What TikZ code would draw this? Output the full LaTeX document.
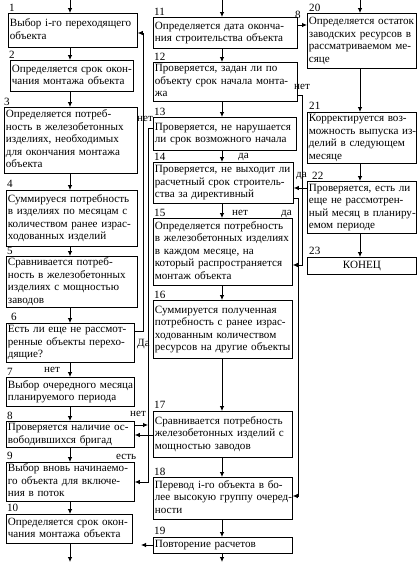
\documentclass[tikz,border=0pt]{standalone}
\usepackage{fontspec}
\setmainfont{Liberation Serif}
\usetikzlibrary{arrows.meta}
\newcommand\lns[1]{\noindent\begin{tabular}{@{}l@{}}#1\end{tabular}}
\begin{document}
\begin{tikzpicture}[x=1pt,y=-1pt,
  every node/.style={font={\fontsize{11.1}{12.5}\selectfont}},
  box/.style={draw, line width=0.8pt, anchor=north west, inner xsep=1.5pt, inner ysep=0.5pt, align=left},
  cbox/.style={draw, line width=0.8pt, anchor=north west, inner sep=0pt, align=center},
  lab/.style={inner sep=0pt, anchor=base west},
  arr/.style={line width=0.8pt, -{Latex[length=5pt,width=4.5pt]}}]
\useasboundingbox[fill=white] (0,0) rectangle (418,563);

% ---------- left column ----------
\node[box, minimum width=129pt, minimum height=34pt, text width=126pt] (b1) at (8,13) {\lns{Выбор i-го переходящего\\объекта}};
\node[box, minimum width=123pt, minimum height=31pt, text width=120pt] (b2) at (10,60) {\lns{Определяется срок окон-\\чания монтажа объекта}};
\node[box, minimum width=133pt, minimum height=66pt, text width=130pt] (b3) at (4,107) {\lns{Определяется потреб-\\ность в железобетонных\\изделиях, необходимых\\для окончания монтажа\\объекта}};
\node[box, minimum width=131pt, minimum height=56pt, text width=128pt] (b4) at (6,190) {\lns{Суммируеся потребность\\в изделиях по месяцам с\\количеством ранее израс-\\ходованных изделий}};
\node[box, minimum width=131pt, minimum height=51pt, text width=128pt] (b5) at (6,256) {\lns{Сравнивается потреб-\\ность в железобетонных\\изделиях с мощностью\\заводов}};
\node[box, minimum width=128pt, minimum height=38pt, text width=125pt] (b6) at (6,323) {\lns{Есть ли еще не рассмот-\\ренные объекты перехо-\\дящие?}};
\node[box, minimum width=128pt, minimum height=29pt, text width=125pt] (b7) at (6,377) {\lns{Выбор очередного месяца\\планируемого периода}};
\node[box, minimum width=128pt, minimum height=26pt, text width=125pt] (b8) at (6,421) {\lns{Проверяется наличие ос-\\вободившихся бригад}};
\node[box, minimum width=128pt, minimum height=38pt, text width=125pt] (b9) at (6,462) {\lns{Выбор вновь начинаемо-\\го объекта для включе-\\ния в поток}};
\node[box, minimum width=126pt, minimum height=29pt, text width=123pt] (b10) at (6,514) {\lns{Определяется срок окон-\\чания монтажа объекта}};

% ---------- middle column ----------
\node[box, minimum width=144pt, minimum height=31pt, text width=141pt] (b11) at (153,17) {\lns{Определяется дата оконча-\\ния строительства объекта}};
\node[box, minimum width=144pt, minimum height=39pt, text width=141pt] (b12) at (153,62) {\lns{Проверяется, задан ли по\\объекту срок начала монта-\\жа}};
\node[box, minimum width=143pt, minimum height=33pt, text width=140pt] (b13) at (153,117) {\lns{Проверяется, не нарушается\\ли срок возможного начала}};
\node[box, minimum width=140pt, minimum height=41pt, text width=137pt] (b14) at (153,162) {\lns{Проверяется, не выходит ли\\расчетный срок строитель-\\ства за директивный}};
\node[box, minimum width=139pt, minimum height=67pt, text width=136pt] (b15) at (153,218) {\lns{Определяется потребность\\в железобетонных изделиях\\в каждом месяце, на\\который распространяется\\монтаж объекта}};
\node[box, minimum width=139pt, minimum height=58pt, text width=136pt] (b16) at (153,300) {\lns{Суммируется полученная\\потребность с ранее израс-\\ходованным количеством\\ресурсов на другие объекты}};
\node[box, minimum width=139pt, minimum height=46pt, text width=136pt] (b17) at (153,411) {\lns{Сравнивается потребность\\железобетонных изделий с\\мощностью заводов}};
\node[box, minimum width=139pt, minimum height=42pt, text width=136pt] (b18) at (153,477) {\lns{Перевод i-го объекта в бо-\\лее высокую группу очеред-\\ности}};
\node[box, minimum width=139pt, minimum height=16pt, text width=136pt] (b19) at (153,537) {\lns{Повторение расчетов}};

% ---------- right column ----------
\node[box, minimum width=109pt, minimum height=55pt, text width=106pt] (b20) at (307,13) {\lns{Определяется остаток\\заводских ресурсов в\\рассматриваемом ме-\\сяце}};
\node[box, minimum width=109pt, minimum height=51pt, text width=106pt] (b21) at (307,112) {\lns{Корректируется воз-\\можность выпуска из-\\делий в следующем\\месяце}};
\node[box, minimum width=109pt, minimum height=52pt, text width=106pt] (b22) at (307,181) {\lns{Проверяется, есть ли\\еще не рассмотрен-\\ный месяц в планиру-\\емом периоде}};
\node[cbox, minimum width=109pt, minimum height=17pt] (b23) at (307,257) {КОНЕЦ};

% ---------- number labels ----------
\node[lab] (n1) at (9,11) {1};
\node[lab] (n2) at (9,58) {2};
\node[lab] (n3) at (4,105) {3};
\node[lab] (n4) at (7,187) {4};
\node[lab] (n5) at (7,254) {5};
\node[lab] (n6) at (11,320) {6};
\node[lab] (n7) at (7,375) {7};
\node[lab] (n8) at (7,419) {8};
\node[lab] (n9) at (7,459) {9};
\node[lab] (n10) at (7,511) {10};
\node[lab] (n11) at (154,15) {11};
\node[lab] (n12) at (154,60) {12};
\node[lab] (n13) at (154,115) {13};
\node[lab] (n14) at (154,160) {14};
\node[lab] (n15) at (154,216) {15};
\node[lab] (n16) at (154,298) {16};
\node[lab] (n17) at (154,408) {17};
\node[lab] (n18) at (154,475) {18};
\node[lab] (n19) at (154,534) {19};
\node[lab] (n20) at (309,11) {20};
\node[lab] (n21) at (309,109) {21};
\node[lab] (n22) at (312,179) {22};
\node[lab] (n23) at (309,254) {23};
\node[lab] (n8r) at (295,18) {8};

% ---------- connector labels ----------
\node[lab] (t6) at (137,346) {Да};
\node[lab] (t67) at (44,372) {нет};
\node[lab] (t8) at (130,416) {нет};
\node[lab] (t89) at (116,459) {есть};
\node[lab] (t13) at (137,121) {нет};
\node[lab] (t12) at (294,89) {нет};
\node[lab] (t1314) at (238,158) {да};
\node[lab] (t1415) at (232,215) {нет};
\node[lab] (t14) at (281,215) {да};
\node[lab] (t22) at (296,177) {да};

% ---------- coordinates ----------
\coordinate (inL) at (70,0);
\coordinate (outL) at (70,562);
\coordinate (inM) at (222,0);
\coordinate (outM) at (222,562);
\coordinate (inR) at (360,0);
\coordinate (j8) at (148,425);
\coordinate (e19) at (141,545);
\coordinate (s20) at (298,25);

% ---------- left column arrows ----------
\draw[arr] (inL) -- (b1.north -| inL);
\draw[arr] (b1.south -| inL) -- (b2.north -| inL);
\draw[arr] (b2.south -| inL) -- (b3.north -| inL);
\draw[arr] (b3.south -| inL) -- (b4.north -| inL);
\draw[arr] (b4.south -| inL) -- (b5.north -| inL);
\draw[arr] (b5.south -| inL) -- (b6.north -| inL);
\draw[arr] (b6.south -| inL) -- (b7.north -| inL);
\draw[arr] (b7.south -| inL) -- (b8.north -| inL);
\draw[arr] (b8.south -| inL) -- (b9.north -| inL);
\draw[arr] (b9.south -| inL) -- (b10.north -| inL);
\draw[arr] (b10.south -| inL) -- (outL);

% ---------- middle column arrows ----------
\draw[arr] (inM) -- (b11.north -| inM);
\draw[arr] (b11.south -| inM) -- (b12.north -| inM);
\draw[arr] (b12.south -| inM) -- (b13.north -| inM);
\draw[arr] (b13.south -| inM) -- (b14.north -| inM);
\draw[arr] (b14.south -| inM) -- (b15.north -| inM);
\draw[arr] (b15.south -| inM) -- (b16.north -| inM);
\draw[arr] (b16.south -| inM) -- (b17.north -| inM);
\draw[arr] (b17.south -| inM) -- (b18.north -| inM);
\draw[arr] (b18.south -| inM) -- (b19.north -| inM);
\draw[arr] (b19.south -| inM) -- (outM);

% ---------- right column arrows ----------
\draw[arr] (inR) -- (b20.north -| inR);
\draw[arr] (b20.south -| inR) -- (b21.north -| inR);
\draw[arr] (b21.south -| inR) -- (b22.north -| inR);
\draw[arr] (b22.south -| inR) -- (b23.north -| inR);

% ---------- left gutter ----------
\draw[arr] (b6.east |- 0,331) -- (143,331) -- (143,33) -- (b1.east |- 0,33);
\draw[arr] (b13.west |- 0,128) -- (148,128) -- (148,482) -- (b9.east |- 0,482);
\draw[arr] (b8.east |- 0,425) -- (j8);
\draw[arr] (b17.west |- 0,435) -- (b8.east |- 0,435);
\draw[arr] (b19.west |- 0,545) -- (e19);

% ---------- right gutter ----------
\draw[arr] (b12.east |- 0,95) -- (302,95) -- (302,265) -- (b15.east |- 0,265);
\draw[arr] (b22.west |- 0,188) -- (b14.east |- 0,188);
\draw[arr] (b14.east |- 0,198) -- (298,198) -- (298,496) -- (b18.east |- 0,496);
\draw[arr] (s20) -- (b20.west |- s20);
\end{tikzpicture}
\end{document}
